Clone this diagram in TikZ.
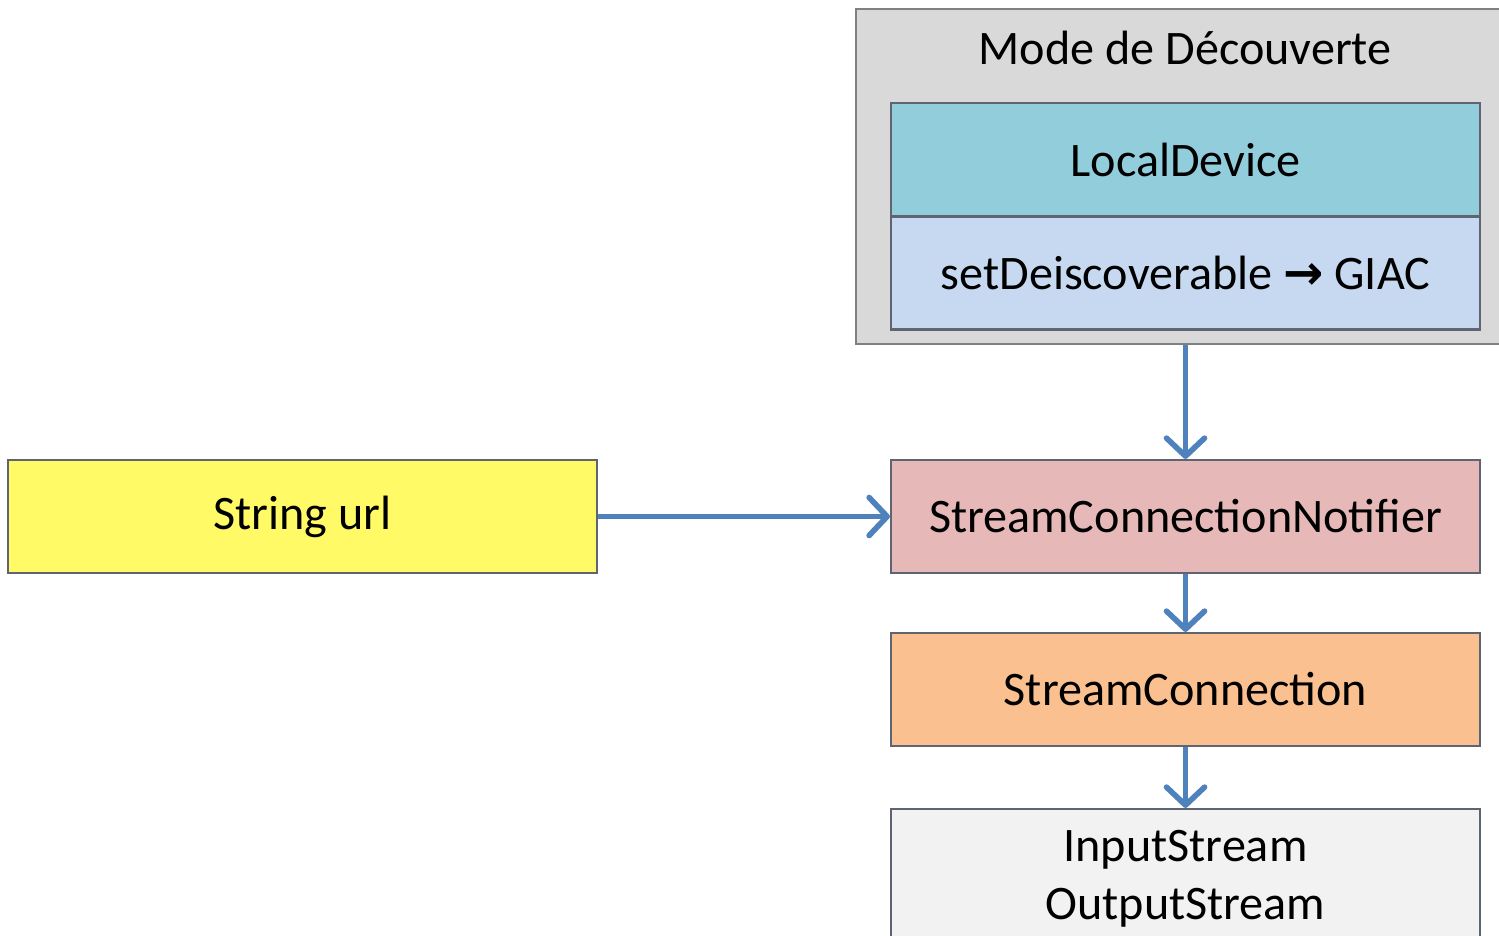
\documentclass[tikz,border=0pt]{standalone}
\usepackage{fontspec}
\setmainfont{Carlito}
\newfontfamily\arrowfont{DejaVu Sans}
\usetikzlibrary{arrows.meta}
\definecolor{boxline}{RGB}{95,100,115}
\definecolor{flowblue}{RGB}{79,129,189}
\definecolor{modegray}{RGB}{217,217,217}
\definecolor{devteal}{RGB}{146,205,220}
\definecolor{discblue}{RGB}{198,217,241}
\definecolor{urlyellow}{RGB}{255,250,102}
\definecolor{notifpink}{RGB}{230,185,184}
\definecolor{connorange}{RGB}{250,192,144}
\definecolor{streamgray}{RGB}{242,242,242}

\begin{document}
\begin{tikzpicture}[box/.style={draw=boxline, line width=.6pt, minimum width=5.89cm, minimum height=1.13cm, inner sep=0pt, font=\fontsize{13.7}{16.4}\selectfont},
 flow/.style={draw=flowblue, line width=1.6pt, -{Straight Barb[length=1.8mm,width=3.8mm,round]}}]

\useasboundingbox (0,0) rectangle (14.99,-9.35);

% discovery mode group
\node[box, fill=modegray, draw=gray, minimum width=6.54cm, minimum height=3.35cm] (mode) at (11.83,-1.765) {};
\node[font=\fontsize{13.7}{16.4}\selectfont] (modetitle) at (11.85,-0.48) {Mode de Découverte};
\node[box, fill=devteal] (dev) at (11.855,-1.595) {LocalDevice};
\node[box, fill=discblue] (disc) at (11.855,-2.73) {setDeiscoverable {\arrowfont\bfseries →} GIAC};

% connection chain
\node[box, fill=urlyellow] (url) at (3.025,-5.165) {String url};
\node[box, fill=notifpink] (notif) at (11.855,-5.165) {StreamConnectionNotifier};
\node[box, fill=connorange] (conn) at (11.855,-6.895) {StreamConnection};
\node[box, fill=streamgray, minimum height=1.4cm, align=center] (streams) at (11.855,-8.79) {InputStream\\OutputStream};

\draw[flow] (mode.south -| notif.north) -- (notif.north);
\draw[flow] (url.east) -- (notif.west);
\draw[flow] (notif.south) -- (conn.north);
\draw[flow] (conn.south) -- (streams.north);
\end{tikzpicture}
\end{document}
